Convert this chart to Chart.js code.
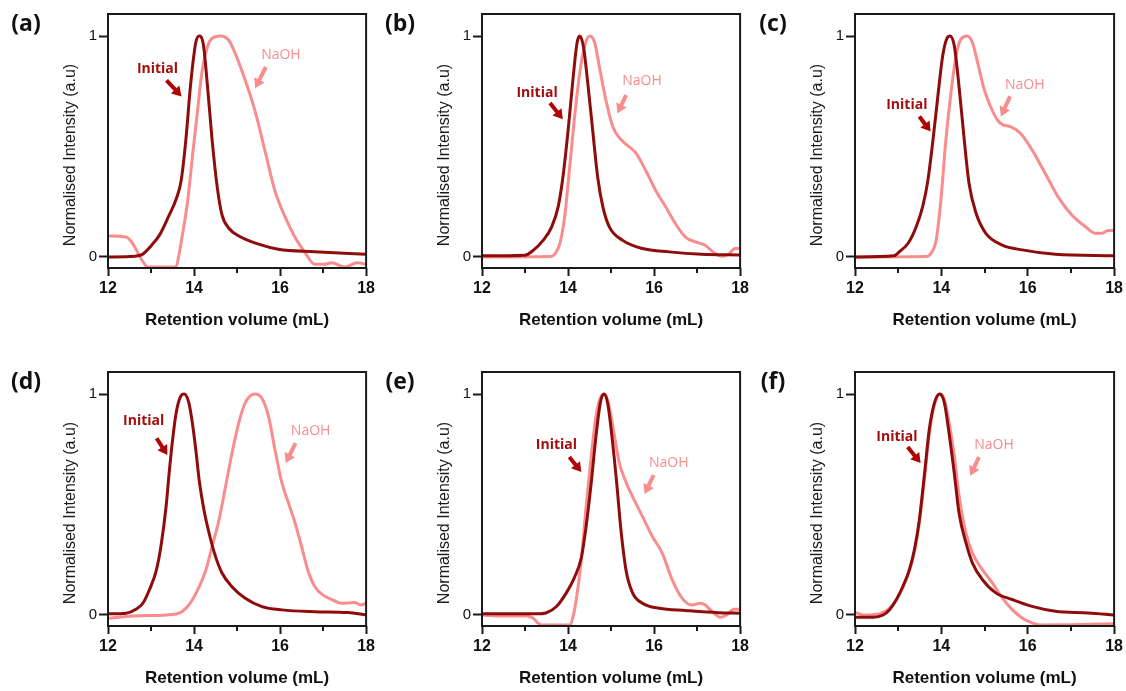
<!DOCTYPE html>
<html>
<head>
<meta charset="utf-8">
<script src="https://cdn.jsdelivr.net/npm/chart.js@4.4.1/dist/chart.umd.min.js"></script>
<style>
  html, body { margin: 0; padding: 0; background: #fff; overflow: hidden; }
  body { width: 1126px; height: 691px; position: relative; }
  canvas { position: absolute; }
</style>
</head>
<body>
<canvas id="pa"></canvas>
<canvas id="pb"></canvas>
<canvas id="pc"></canvas>
<canvas id="pd"></canvas>
<canvas id="pe"></canvas>
<canvas id="pf"></canvas>
<script>
// SEC traces, normalised intensity vs retention volume (mL)
const yTicks = [0, 1];

// (a)
const initialA_mL = [12, 12.5, 12.8, 13.0, 13.2, 13.4, 13.6, 13.7, 13.81, 13.92, 14.04, 14.12, 14.21, 14.31, 14.42, 14.54, 14.65, 14.81, 15.04, 15.5, 15.96, 16.8, 18];
const initialA = [0, 0.002, 0.012, 0.05, 0.10, 0.18, 0.27, 0.345, 0.53, 0.78, 0.97, 1.0, 0.97, 0.78, 0.53, 0.315, 0.19, 0.13, 0.095, 0.058, 0.035, 0.024, 0.012];
const naohA_mL = [12, 12.42, 12.54, 12.65, 12.8, 12.92, 13.0, 13.5, 13.58, 13.65, 13.73, 13.85, 13.96, 14.08, 14.19, 14.31, 14.42, 14.62, 14.81, 14.96, 15.19, 15.42, 15.65, 15.88, 16.12, 16.35, 16.58, 16.8, 17.04, 17.2, 17.5, 17.8, 18];
const naohA = [0.095, 0.09, 0.07, 0.035, -0.018, -0.045, -0.045, -0.045, -0.045, 0.01, 0.10, 0.25, 0.45, 0.66, 0.845, 0.95, 0.99, 1.0, 0.98, 0.92, 0.80, 0.66, 0.48, 0.30, 0.18, 0.088, 0.02, -0.033, -0.033, -0.026, -0.046, -0.026, -0.033];

// (b)
const initialB_mL = [12, 13.0, 13.19, 13.42, 13.62, 13.77, 13.88, 14.0, 14.12, 14.21, 14.27, 14.36, 14.46, 14.58, 14.69, 14.81, 14.96, 15.27, 15.73, 16.35, 17.1, 18];
const initialB = [0.005, 0.008, 0.03, 0.075, 0.136, 0.227, 0.36, 0.57, 0.815, 0.97, 1.0, 0.95, 0.785, 0.56, 0.36, 0.227, 0.136, 0.075, 0.038, 0.023, 0.012, 0.009];
const naohB_mL = [12, 13.6, 13.7, 13.81, 13.92, 14.04, 14.15, 14.27, 14.38, 14.5, 14.62, 14.73, 14.88, 15.04, 15.19, 15.35, 15.58, 15.81, 16.04, 16.27, 16.5, 16.73, 16.96, 17.19, 17.42, 17.58, 17.73, 17.88, 18];
const naohB = [0.0, 0.002, 0.015, 0.06, 0.18, 0.41, 0.63, 0.83, 0.95, 1.0, 0.97, 0.86, 0.71, 0.59, 0.54, 0.51, 0.47, 0.39, 0.30, 0.227, 0.15, 0.09, 0.068, 0.053, 0.015, 0.003, 0.012, 0.038, 0.038];

// (c)
const initialC_mL = [12, 12.9, 13.03, 13.23, 13.42, 13.57, 13.69, 13.8, 13.92, 14.03, 14.13, 14.2, 14.3, 14.41, 14.53, 14.64, 14.8, 15.03, 15.41, 15.87, 16.64, 18];
const initialC = [0, 0.005, 0.024, 0.062, 0.138, 0.23, 0.35, 0.52, 0.73, 0.91, 0.99, 1.0, 0.955, 0.77, 0.53, 0.334, 0.20, 0.107, 0.054, 0.032, 0.012, 0.005];
const naohC_mL = [12, 13.65, 13.76, 13.88, 13.99, 14.1, 14.22, 14.34, 14.45, 14.6, 14.72, 14.84, 14.99, 15.14, 15.3, 15.41, 15.6, 15.83, 16.1, 16.4, 16.71, 17.02, 17.33, 17.56, 17.71, 17.86, 18];
const naohC = [0, 0.002, 0.017, 0.077, 0.26, 0.52, 0.74, 0.91, 0.985, 1.0, 0.97, 0.88, 0.76, 0.68, 0.62, 0.60, 0.59, 0.56, 0.485, 0.38, 0.27, 0.19, 0.138, 0.107, 0.107, 0.12, 0.12];

// (d)
const initialD_mL = [12, 12.42, 12.65, 12.81, 12.96, 13.12, 13.23, 13.35, 13.42, 13.5, 13.58, 13.69, 13.77, 13.88, 13.96, 14.04, 14.12, 14.23, 14.35, 14.5, 14.65, 14.88, 15.19, 15.58, 16.04, 16.81, 17.58, 18];
const initialD = [0.005, 0.008, 0.026, 0.053, 0.113, 0.20, 0.31, 0.49, 0.64, 0.79, 0.91, 0.99, 1.0, 0.96, 0.87, 0.75, 0.61, 0.476, 0.37, 0.264, 0.19, 0.128, 0.076, 0.038, 0.023, 0.015, 0.011, 0.0];
const naohD_mL = [12, 12.58, 13.35, 13.65, 13.81, 13.96, 14.12, 14.27, 14.42, 14.58, 14.73, 14.88, 15.04, 15.19, 15.42, 15.58, 15.73, 15.88, 16.04, 16.19, 16.35, 16.5, 16.65, 16.81, 17.0, 17.19, 17.42, 17.73, 17.88, 18];
const naohD = [-0.015, -0.005, 0, 0.008, 0.03, 0.068, 0.128, 0.20, 0.31, 0.43, 0.58, 0.73, 0.87, 0.96, 1.0, 0.98, 0.90, 0.75, 0.60, 0.51, 0.415, 0.31, 0.20, 0.128, 0.09, 0.071, 0.053, 0.056, 0.045, 0.053];

// (e)
const initialE_mL = [12, 13.27, 13.5, 13.73, 13.96, 14.15, 14.31, 14.42, 14.54, 14.65, 14.75, 14.83, 14.92, 15.02, 15.13, 15.23, 15.35, 15.5, 15.73, 16.12, 16.73, 17.5, 18];
const initialE = [0.005, 0.005, 0.01, 0.038, 0.10, 0.17, 0.26, 0.40, 0.60, 0.81, 0.96, 1.0, 0.96, 0.81, 0.60, 0.385, 0.20, 0.10, 0.053, 0.03, 0.02, 0.01, 0.008];
const naohE_mL = [12, 12.5, 13.04, 13.19, 13.31, 13.38, 13.5, 14.0, 14.04, 14.12, 14.19, 14.31, 14.42, 14.54, 14.65, 14.77, 14.85, 14.96, 15.08, 15.19, 15.35, 15.5, 15.73, 15.96, 16.19, 16.42, 16.65, 16.88, 17.08, 17.19, 17.35, 17.54, 17.69, 17.85, 18];
const naohE = [0, -0.005, -0.005, -0.015, -0.038, -0.045, -0.045, -0.045, -0.045, -0.005, 0.068, 0.25, 0.49, 0.72, 0.90, 0.99, 1.0, 0.94, 0.81, 0.69, 0.60, 0.536, 0.446, 0.355, 0.28, 0.16, 0.076, 0.045, 0.053, 0.045, 0.015, -0.01, 0.0, 0.026, 0.026];

// (f)
const initialF_mL = [12, 12.42, 12.65, 12.8, 12.96, 13.11, 13.26, 13.38, 13.49, 13.61, 13.72, 13.84, 13.96, 14.07, 14.18, 14.3, 14.41, 14.57, 14.72, 14.95, 15.26, 15.64, 16.1, 16.64, 17.4, 18];
const initialF = [-0.01, -0.01, 0, 0.024, 0.07, 0.13, 0.205, 0.30, 0.43, 0.64, 0.84, 0.96, 1.0, 0.96, 0.82, 0.64, 0.46, 0.326, 0.235, 0.16, 0.10, 0.07, 0.039, 0.017, 0.009, 0.0];
const naohF_mL = [12, 12.19, 12.57, 12.8, 12.96, 13.11, 13.26, 13.38, 13.49, 13.61, 13.72, 13.84, 13.98, 14.07, 14.18, 14.3, 14.41, 14.57, 14.72, 14.95, 15.18, 15.41, 15.64, 15.87, 16.1, 16.29, 17.02, 18];
const naohF = [0.012, 0.0, 0.006, 0.03, 0.07, 0.125, 0.20, 0.29, 0.42, 0.62, 0.82, 0.955, 1.0, 0.975, 0.87, 0.72, 0.54, 0.37, 0.28, 0.205, 0.145, 0.077, 0.024, -0.014, -0.036, -0.045, -0.044, -0.04];

const INITIAL_COLOR = '#8e0c0c';
const NAOH_COLOR = '#f98c8c';
const INK = '#1a1a1a';

// label + arrow placement per panel, in data units: [textX, textY, tailX, tailY, headX, headY]
const panels = [
  { id: 'pa', tag: '(a)', left: 108, top: 14, w: 260, ini: [initialA_mL, initialA], na: [naohA_mL, naohA],
    iniNote: [13.15, 0.85, 13.36, 0.80, 13.71, 0.727], naNote: [16.02, 0.914, 15.67, 0.86, 15.42, 0.764] },
  { id: 'pb', tag: '(b)', left: 482, top: 14, w: 260, ini: [initialB_mL, initialB], na: [naohB_mL, naohB],
    iniNote: [13.28, 0.74, 13.58, 0.697, 13.88, 0.624], naNote: [15.72, 0.796, 15.35, 0.733, 15.15, 0.65] },
  { id: 'pc', tag: '(c)', left: 855, top: 14, w: 261, ini: [initialC_mL, initialC], na: [naohC_mL, naohC],
    iniNote: [13.2, 0.686, 13.49, 0.636, 13.75, 0.568], naNote: [15.93, 0.78, 15.59, 0.727, 15.38, 0.636] },
  { id: 'pd', tag: '(d)', left: 108, top: 372, w: 260, ini: [initialD_mL, initialD], na: [naohD_mL, naohD],
    iniNote: [12.83, 0.878, 13.13, 0.80, 13.38, 0.724], naNote: [16.71, 0.833, 16.36, 0.778, 16.13, 0.688] },
  { id: 'pe', tag: '(e)', left: 482, top: 372, w: 260, ini: [initialE_mL, initialE], na: [naohE_mL, naohE],
    iniNote: [13.73, 0.77, 14.03, 0.715, 14.31, 0.647], naNote: [16.34, 0.688, 15.99, 0.633, 15.78, 0.548] },
  { id: 'pf', tag: '(f)', left: 855, top: 372, w: 261, ini: [initialF_mL, initialF], na: [naohF_mL, naohF],
    iniNote: [12.97, 0.805, 13.22, 0.76, 13.52, 0.688], naNote: [15.22, 0.77, 14.87, 0.715, 14.67, 0.63] }
];

const AXIS_W = 100, AXIS_H = 65, PAD_TOP = 14, PAD_RIGHT = 10, PLOT_H = 254;

function toPoints(xs, ys) {
  return xs.map((x, i) => ({ x: x, y: ys[i] }));
}

function drawArrow(ctx, x1, y1, x2, y2, color) {
  const ang = Math.atan2(y2 - y1, x2 - x1);
  const head = 11;
  ctx.save();
  ctx.strokeStyle = color;
  ctx.fillStyle = color;
  ctx.lineWidth = 4;
  ctx.beginPath();
  ctx.moveTo(x1, y1);
  ctx.lineTo(x2 - Math.cos(ang) * head * 0.8, y2 - Math.sin(ang) * head * 0.8);
  ctx.stroke();
  ctx.beginPath();
  ctx.moveTo(x2, y2);
  ctx.lineTo(x2 - head * Math.cos(ang - 0.55), y2 - head * Math.sin(ang - 0.55));
  ctx.lineTo(x2 - head * Math.cos(ang + 0.55), y2 - head * Math.sin(ang + 0.55));
  ctx.closePath();
  ctx.fill();
  ctx.restore();
}

// frame, minor ticks, y title, panel tag and the two curve labels
const panelDecor = {
  id: 'panelDecor',
  afterDraw(chart, args, opts) {
    const { ctx, chartArea: a, scales: { x, y } } = chart;
    ctx.save();
    ctx.strokeStyle = INK;
    ctx.lineWidth = 2;
    ctx.strokeRect(a.left, a.top, a.right - a.left, a.bottom - a.top);
    [13, 15, 17].forEach(v => {
      const px = Math.round(x.getPixelForValue(v));
      ctx.beginPath();
      ctx.moveTo(px, a.bottom);
      ctx.lineTo(px, a.bottom + 5);
      ctx.stroke();
    });

    ctx.fillStyle = INK;
    ctx.font = '16px "Liberation Sans", Arial, sans-serif';
    ctx.textAlign = 'center';
    ctx.textBaseline = 'middle';
    ctx.translate(a.left - 37, a.top + 141);
    ctx.rotate(-Math.PI / 2);
    ctx.fillText('Normalised Intensity (a.u)', 0, 0);
    ctx.restore();

    ctx.save();
    ctx.fillStyle = '#111';
    ctx.font = 'bold 23px "Open Sans", sans-serif';
    ctx.textAlign = 'center';
    ctx.textBaseline = 'middle';
    ctx.fillText(opts.tag, a.left - 82, a.top + 10);

    const ni = opts.iniNote, nn = opts.naNote;
    ctx.font = 'bold 14px "Open Sans", sans-serif';
    ctx.fillStyle = '#a10e0e';
    ctx.fillText('Initial', x.getPixelForValue(ni[0]), y.getPixelForValue(ni[1]));
    drawArrow(ctx, x.getPixelForValue(ni[2]), y.getPixelForValue(ni[3]),
      x.getPixelForValue(ni[4]), y.getPixelForValue(ni[5]), '#b00404');

    ctx.font = '14px "Open Sans", sans-serif';
    ctx.fillStyle = NAOH_COLOR;
    ctx.fillText('NaOH', x.getPixelForValue(nn[0]), y.getPixelForValue(nn[1]));
    drawArrow(ctx, x.getPixelForValue(nn[2]), y.getPixelForValue(nn[3]),
      x.getPixelForValue(nn[4]), y.getPixelForValue(nn[5]), NAOH_COLOR);
    ctx.restore();
  }
};

panels.forEach(p => {
  const cv = document.getElementById(p.id);
  const cw = AXIS_W + p.w + PAD_RIGHT;
  const ch = PAD_TOP + PLOT_H + AXIS_H;
  cv.width = cw;
  cv.height = ch;
  cv.style.width = cw + 'px';
  cv.style.height = ch + 'px';
  cv.style.left = (p.left - AXIS_W) + 'px';
  cv.style.top = (p.top - PAD_TOP) + 'px';

  new Chart(cv, {
    type: 'line',
    data: {
      datasets: [
        { label: 'Initial', data: toPoints(p.ini[0], p.ini[1]), borderColor: INITIAL_COLOR, order: 0 },
        { label: 'NaOH', data: toPoints(p.na[0], p.na[1]), borderColor: NAOH_COLOR, order: 1 }
      ]
    },
    options: {
      responsive: false,
      animation: false,
      layout: { padding: { left: 0, top: PAD_TOP, right: PAD_RIGHT, bottom: 0 } },
      elements: {
        point: { radius: 0 },
        line: { borderWidth: 3, cubicInterpolationMode: 'monotone', fill: false }
      },
      datasets: { line: { clip: 0 } },
      plugins: {
        legend: { display: false },
        tooltip: { enabled: false },
        panelDecor: { tag: p.tag, iniNote: p.iniNote, naNote: p.naNote }
      },
      scales: {
        x: {
          type: 'linear',
          min: 12,
          max: 18,
          afterFit: s => { s.height = AXIS_H; },
          border: { display: false },
          grid: {
            drawOnChartArea: false,
            tickLength: 8,
            tickWidth: 2,
            tickColor: c => (c.tick && c.tick.value % 2 === 0) ? INK : 'rgba(0,0,0,0)'
          },
          ticks: {
            stepSize: 1,
            autoSkip: false,
            maxRotation: 0,
            padding: 3,
            color: '#111',
            font: { family: '"Liberation Sans", Arial, sans-serif', size: 16, weight: 'bold' },
            callback: v => (v % 2 === 0 ? String(v) : '')
          },
          title: {
            display: true,
            text: 'Retention volume (mL)',
            color: '#111',
            font: { family: '"Liberation Sans", Arial, sans-serif', size: 17, weight: 'bold' },
            padding: { top: 0, bottom: 2 }
          }
        },
        y: {
          type: 'linear',
          min: -0.05,
          max: 1.1,
          afterFit: s => { s.width = AXIS_W; },
          afterBuildTicks: s => { s.ticks = yTicks.map(v => ({ value: v })); },
          border: { display: false },
          grid: { drawOnChartArea: false, tickLength: 9, tickWidth: 2, tickColor: INK },
          ticks: {
            padding: 2,
            color: '#111',
            font: { family: '"Liberation Sans", Arial, sans-serif', size: 15 },
            callback: v => String(v)
          }
        }
      }
    },
    plugins: [panelDecor]
  });
});
</script>
</body>
</html>
